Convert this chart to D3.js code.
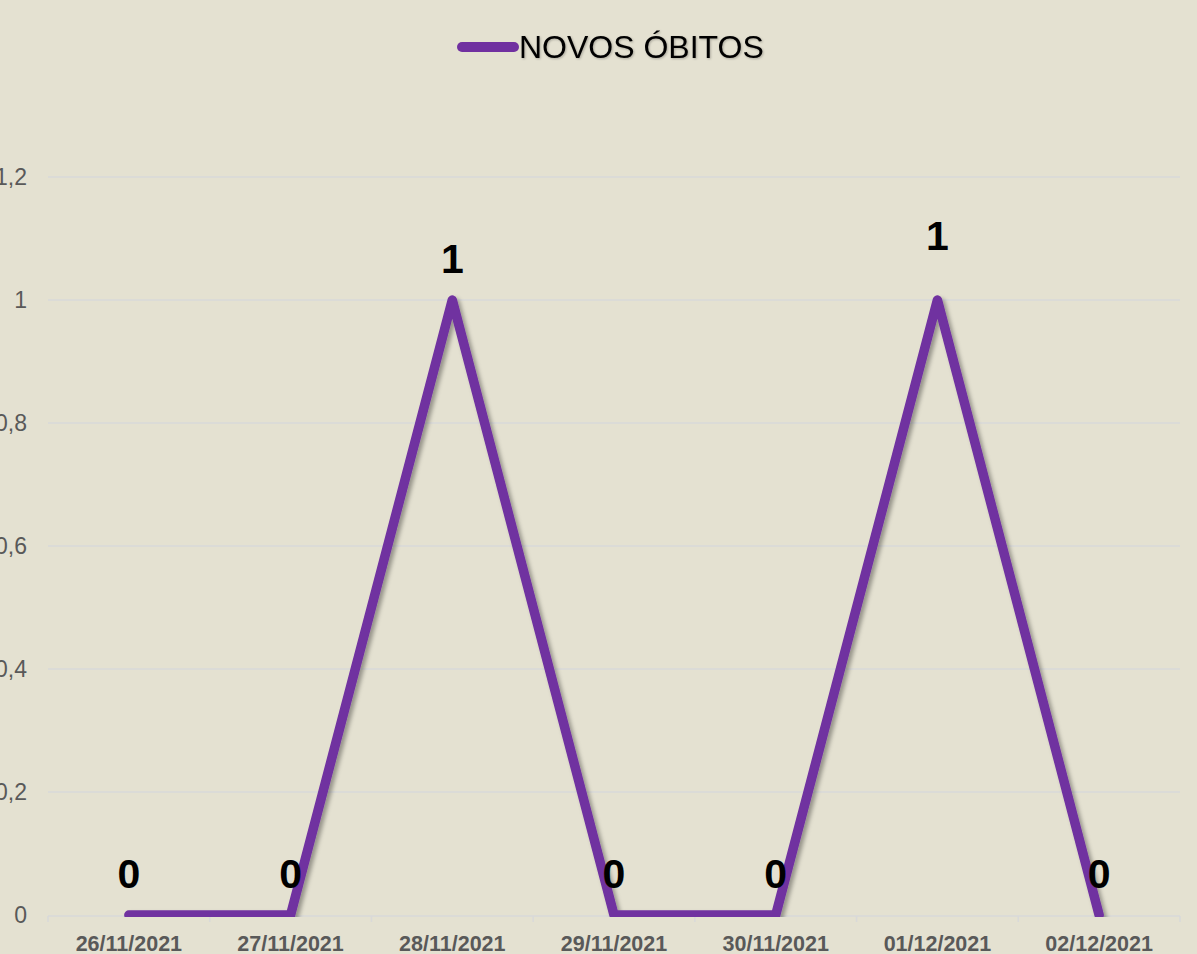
<!DOCTYPE html>
<html><head><meta charset="utf-8">
<script src="https://cdn.jsdelivr.net/npm/d3@7"></script>
<style>html,body{margin:0;padding:0;background:#E4E1D1;overflow:hidden}</style>
</head><body>
<svg id="c" width="1197" height="954"></svg>
<script>
const categories = ["26/11/2021","27/11/2021","28/11/2021","29/11/2021","30/11/2021","01/12/2021","02/12/2021"];
const novosObitos = [0,0,1,0,0,1,0];
const yTicks = [0,0.2,0.4,0.6,0.8,1,1.2];
const seriesName = "NOVOS ÓBITOS";

const W=1197,H=954;
const m={left:48,right:17,top:177,bottom:39};
const svg=d3.select("#c");
svg.append("rect").attr("width",W).attr("height",H).attr("fill","#E4E1D1");
const defs=svg.append("defs");
const f=defs.append("filter").attr("id","sh").attr("x","-20%").attr("y","-20%").attr("width","140%").attr("height","140%");
f.append("feDropShadow").attr("dx",3).attr("dy",3).attr("stdDeviation",2).attr("flood-color","#000").attr("flood-opacity",0.35);
const ft=defs.append("filter").attr("id","tsh").attr("x","-10%").attr("y","-20%").attr("width","120%").attr("height","140%");
ft.append("feDropShadow").attr("dx",1).attr("dy",1).attr("stdDeviation",0.8).attr("flood-color","#000").attr("flood-opacity",0.25);
defs.append("clipPath").attr("id","clip").append("rect").attr("x",0).attr("y",0).attr("width",W).attr("height",917);

const x=d3.scaleBand().domain(categories).range([m.left,W-m.right]);
const y=d3.scaleLinear().domain([0,1.2]).range([915,177]);
const fmt=d=>String(d).replace(".",",");

// gridlines
svg.append("g").selectAll("line").data(yTicks.filter(d=>d>0)).join("line")
  .attr("x1",m.left).attr("x2",W-m.right).attr("y1",d=>y(d)).attr("y2",d=>y(d))
  .attr("stroke","#D9D9D9").attr("stroke-width",1.3);

// y labels
svg.append("g").selectAll("text").data(yTicks).join("text")
  .attr("x",27).attr("y",d=>y(d)).attr("dy","0.36em").attr("text-anchor","end")
  .attr("font-family","Liberation Sans, Arial, sans-serif").attr("font-size",23)
  .attr("fill","#595959").text(fmt);

// x axis
const xa=svg.append("g").attr("transform","translate(0,"+y(0)+")")
  .call(d3.axisBottom(x).tickSize(0).tickPadding(0));
xa.select(".domain").remove();
xa.append("line").attr("x1",m.left).attr("x2",W-m.right).attr("y1",1).attr("y2",1).attr("stroke","#D9D9D9").attr("stroke-width",1.5);
const edges=categories.map(c=>x(c)).concat([x(categories[categories.length-1])+x.bandwidth()]);
xa.selectAll(".edge").data(edges).join("line").attr("class","edge")
  .attr("x1",d=>d).attr("x2",d=>d).attr("y1",1).attr("y2",7).attr("stroke","#D9D9D9").attr("stroke-width",1.5);
xa.selectAll(".tick text").attr("y",36).attr("dy",0)
  .attr("font-family","Liberation Sans, Arial, sans-serif").attr("font-size",21.5).attr("font-weight","bold").attr("fill","#595959");

// line
const cx=c=>x(c)+x.bandwidth()/2;
const line=d3.line().x((d,i)=>cx(categories[i])).y(d=>y(d));
svg.append("g").attr("clip-path","url(#clip)").append("path").datum(novosObitos)
  .attr("d",line).attr("fill","none").attr("stroke","#7030A0").attr("stroke-width",9.5)
  .attr("stroke-linejoin","round").attr("stroke-linecap","round").attr("filter","url(#sh)");

// data labels
const extraLift={5:23};
svg.append("g").selectAll("text").data(novosObitos).join("text")
  .attr("x",(d,i)=>cx(categories[i])).attr("y",(d,i)=>y(d)-27-(extraLift[i]||0))
  .attr("text-anchor","middle").attr("font-family","Liberation Sans, Arial, sans-serif")
  .attr("font-size",41).attr("font-weight","bold").attr("fill","#000").text(d=>d);

// legend
const lg=svg.append("g");
lg.append("line").attr("x1",462).attr("x2",514).attr("y1",47).attr("y2",47)
  .attr("stroke","#7030A0").attr("stroke-width",10).attr("stroke-linecap","round");
lg.append("text").attr("x",519).attr("y",58).attr("font-family","Liberation Sans, Arial, sans-serif")
  .attr("font-size",32).attr("fill","#000").attr("filter","url(#tsh)").text(seriesName);
</script>
</body></html>
